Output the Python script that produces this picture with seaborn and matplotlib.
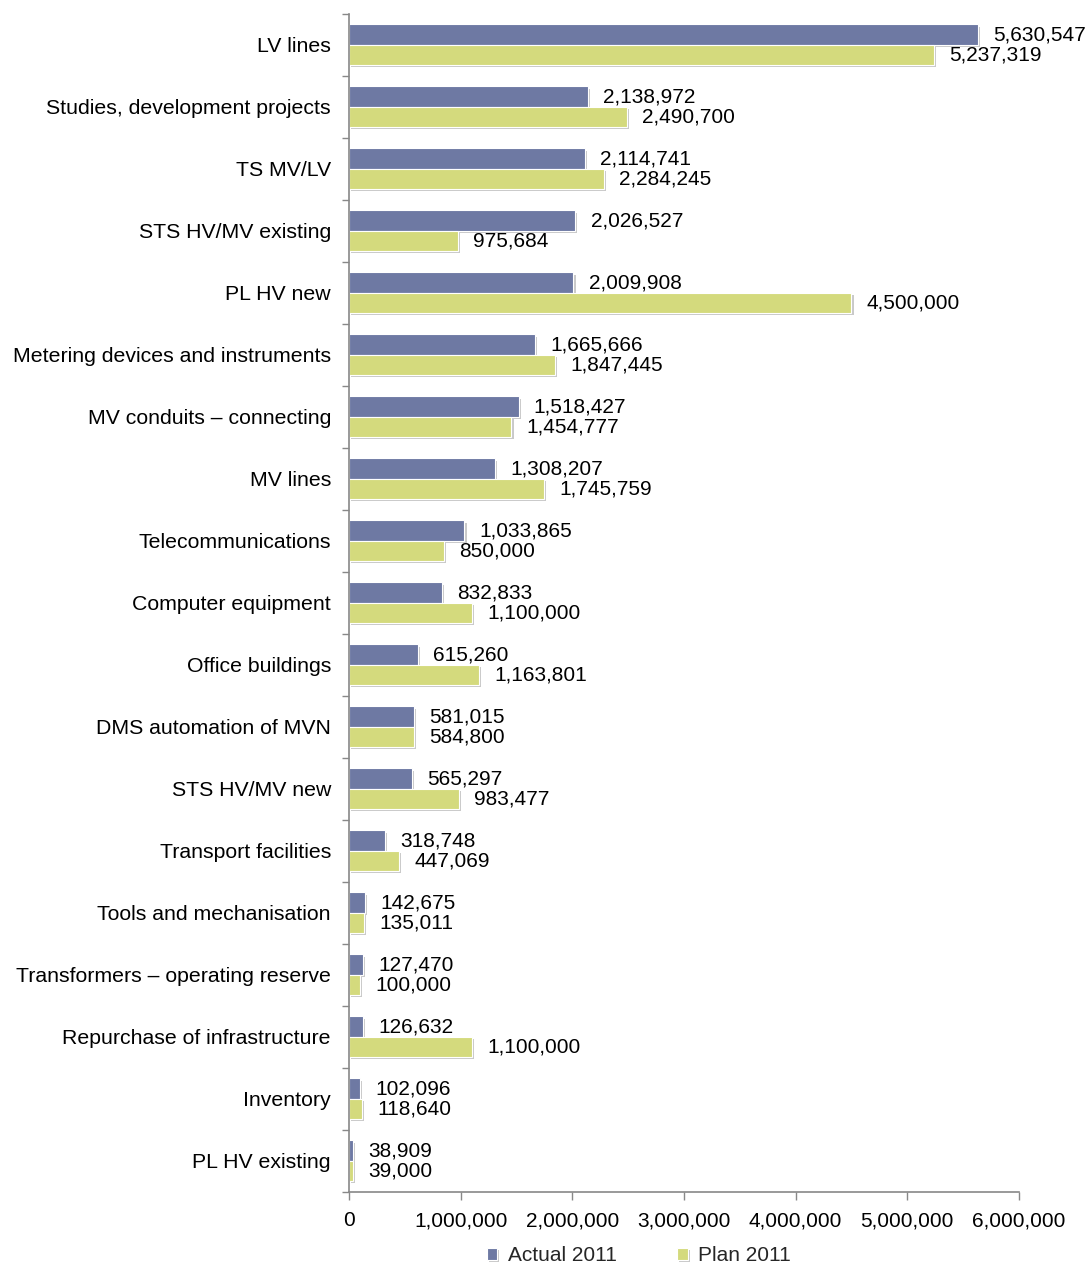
import matplotlib
matplotlib.use("Agg")
import matplotlib.pyplot as plt
import matplotlib.patheffects as pe
from matplotlib.ticker import FuncFormatter, FixedLocator
import numpy as np
import pandas as pd
import seaborn as sns

categories = [
    "LV lines",
    "Studies, development projects",
    "TS MV/LV",
    "STS HV/MV existing",
    "PL HV new",
    "Metering devices and instruments",
    "MV conduits \u2013 connecting",
    "MV lines",
    "Telecommunications",
    "Computer equipment",
    "Office buildings",
    "DMS automation of MVN",
    "STS HV/MV new",
    "Transport facilities",
    "Tools and mechanisation",
    "Transformers \u2013 operating reserve",
    "Repurchase of infrastructure",
    "Inventory",
    "PL HV existing",
]
actual_2011 = [5630547, 2138972, 2114741, 2026527, 2009908, 1665666, 1518427,
               1308207, 1033865, 832833, 615260, 581015, 565297, 318748,
               142675, 127470, 126632, 102096, 38909]
plan_2011 = [5237319, 2490700, 2284245, 975684, 4500000, 1847445, 1454777,
             1745759, 850000, 1100000, 1163801, 584800, 983477, 447069,
             135011, 100000, 1100000, 118640, 39000]
series_names = ["Actual 2011", "Plan 2011"]
series_colors = ["#6E79A3", "#D4DA7D"]

df = pd.concat([
    pd.DataFrame({"category": categories, "value": actual_2011, "series": series_names[0]}),
    pd.DataFrame({"category": categories, "value": plan_2011, "series": series_names[1]}),
], ignore_index=True)

sns.set_theme(style="white")
plt.rcParams["font.family"] = ["Liberation Sans", "DejaVu Sans"]

fig = plt.figure(figsize=(10.92, 12.64), dpi=100)
ax = fig.add_axes([0.3196, 0.057, 0.6135, 0.932])

sns.barplot(data=df, y="category", x="value", hue="series", orient="h",
            palette=series_colors, width=0.66, ax=ax, legend=True,
            edgecolor="white", linewidth=0.8, saturation=1)

shadow = [pe.SimplePatchShadow(offset=(1.5, -1.5), shadow_rgbFace="#888888", alpha=0.45),
          pe.Normal()]
for patch in ax.patches:
    patch.set_path_effects(shadow)

for cont in ax.containers:
    ax.bar_label(cont, labels=[f"{v:,.0f}" for v in cont.datavalues],
                 padding=11, fontsize=15, color="black")

ax.set_xlim(0, 6000000)
ax.set_xticks(np.arange(0, 6000001, 1000000))
ax.xaxis.set_major_formatter(FuncFormatter(lambda v, p: f"{v:,.0f}"))
ax.set_ylim(len(categories) - 0.5, -0.5)
ax.set_xlabel("")
ax.set_ylabel("")

ax.tick_params(axis="y", which="major", length=0, labelsize=15.3, pad=13, labelcolor="black")
ax.yaxis.set_minor_locator(FixedLocator(np.arange(-0.5, len(categories), 1)))
ax.tick_params(axis="y", which="minor", length=5, width=1, color="#888888", left=True)
ax.tick_params(axis="x", which="major", length=6, width=1, color="#888888",
               bottom=True, labelsize=15, pad=8, labelcolor="black")

for side in ["top", "right"]:
    ax.spines[side].set_visible(False)
for side in ["left", "bottom"]:
    ax.spines[side].set_color("#888888")
    ax.spines[side].set_linewidth(1.2)
ax.grid(False)

handles, labels = ax.get_legend_handles_labels()
ax.get_legend().remove()
fig.legend(handles, labels, loc="center", bbox_to_anchor=(0.585, 0.0065), ncol=2,
           frameon=False, fontsize=15, handlelength=0.5, handleheight=0.5,
           handletextpad=0.5, columnspacing=2.9, borderaxespad=0.0, borderpad=0.1)

fig.savefig("out.png", dpi=100, facecolor="white")
